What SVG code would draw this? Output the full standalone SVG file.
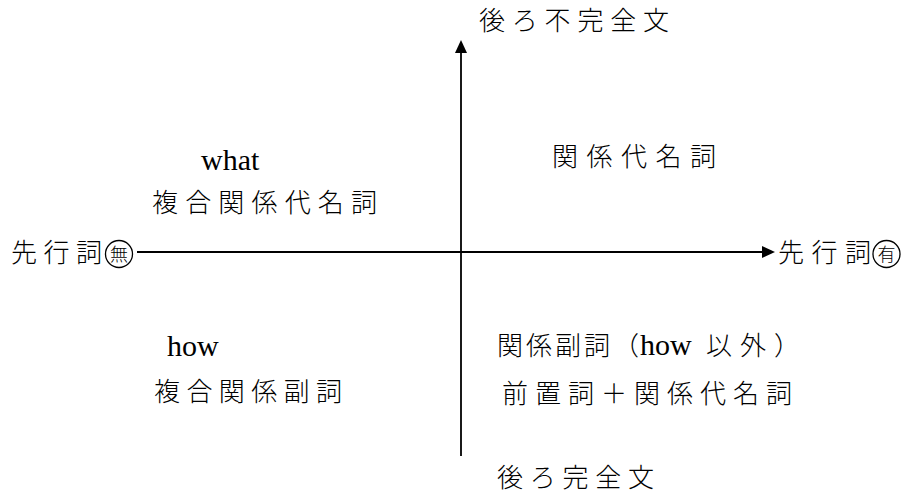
<svg xmlns="http://www.w3.org/2000/svg" width="902" height="498" viewBox="0 0 902 498">
<style>
text{font-family:"Liberation Serif","Noto Sans CJK JP",serif;fill:#000;}
.j{font-size:26px;font-weight:300;}
.e{font-size:30px;}
.c{font-size:18px;font-weight:300;text-anchor:middle;}
.ax{stroke:#000;stroke-width:1.8;fill:none;}
.ring{stroke:#000;stroke-width:1.3;fill:none;}
</style>
<defs>
<marker id="ah" viewBox="0 0 13 12" refX="0" refY="6" markerWidth="13" markerHeight="12" markerUnits="userSpaceOnUse" orient="auto">
<path d="M0,0 L13,6 L0,12 Z" fill="#000"/>
</marker>
</defs>
<rect width="902" height="498" fill="#fff"/>
<g id="connectors">
<line class="ax" x1="137" y1="252" x2="762" y2="252" marker-end="url(#ah)"/>
<line class="ax" x1="461" y1="456" x2="461" y2="53" marker-end="url(#ah)"/>
</g>
<g id="top-label"><text class="j" x="479" y="30" textLength="190" lengthAdjust="spacing">後ろ不完全文</text></g>
<g id="bottom-label"><text class="j" x="497" y="487" textLength="157" lengthAdjust="spacing">後ろ完全文</text></g>
<g id="left-label">
<text class="j" x="11" y="262" textLength="91" lengthAdjust="spacing">先行詞</text>
<circle class="ring" cx="119" cy="254" r="13.5"/>
<text class="c" x="119" y="260.5">無</text>
</g>
<g id="right-label">
<text class="j" x="778" y="262" textLength="93" lengthAdjust="spacing">先行詞</text>
<circle class="ring" cx="886.5" cy="254" r="13.5"/>
<text class="c" x="886.5" y="260.5">有</text>
</g>
<g id="q1"><text class="j" x="552" y="166" textLength="164" lengthAdjust="spacing">関係代名詞</text></g>
<g id="q2">
<text class="e" x="201" y="170">what</text>
<text class="j" x="152" y="212" textLength="225" lengthAdjust="spacing">複合関係代名詞</text>
</g>
<g id="q3">
<text class="e" x="167" y="356">how</text>
<text class="j" x="154" y="401" textLength="188" lengthAdjust="spacing">複合関係副詞</text>
</g>
<g id="q4">
<text class="j" x="497" y="355" letter-spacing="3">関係副詞（</text>
<text class="e" x="640" y="355">how</text>
<text class="j" x="706" y="355" letter-spacing="8">以外）</text>
<text class="j" x="502" y="403" textLength="290" lengthAdjust="spacing">前置詞＋関係代名詞</text>
</g>
</svg>
